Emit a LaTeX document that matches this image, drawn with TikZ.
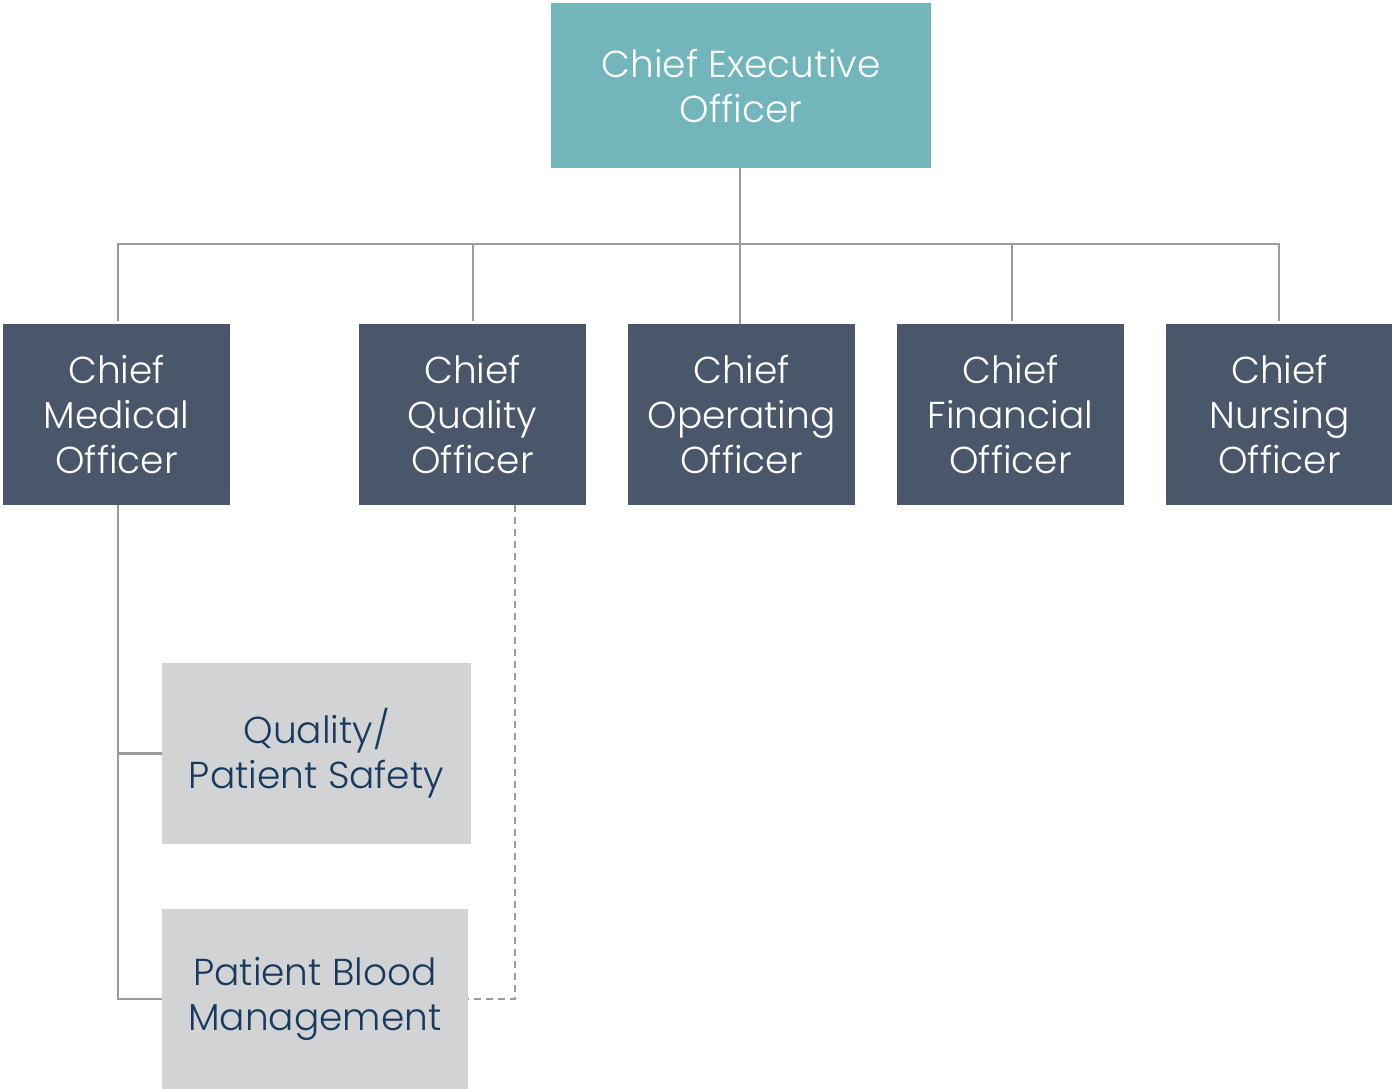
\documentclass[tikz,border=0pt]{standalone}
\usepackage{fontspec}
\setmainfont{Poppins}[UprightFont={* Light}]
\definecolor{teal}{RGB}{114,181,186}
\definecolor{slate}{RGB}{74,87,106}
\definecolor{lightg}{RGB}{209,211,213}
\definecolor{navy}{RGB}{24,58,94}
\definecolor{linegray}{RGB}{155,155,155}
\begin{document}
\begin{tikzpicture}[x=1pt,y=-1pt,
  box/.style={inner sep=0pt,outer sep=0pt,align=center,font=\fontsize{37.5}{45}\selectfont},
  ceo/.style={box,fill=teal,text=white,minimum width=380pt,minimum height=165pt},
  chief/.style={box,fill=slate,text=white,minimum width=227pt,minimum height=181pt},
  sub/.style={box,fill=lightg,text=navy},
  link/.style={draw=linegray,line width=2.8pt},
  dlink/.style={draw=linegray,line width=2.8pt,dash pattern=on 7pt off 5pt}]
\useasboundingbox (0,0) rectangle (1392,1089);
\node[ceo] (ceo) at (741,85.5) {Chief Executive\\Officer};
\node[chief] (cmo) at (116.5,414.5) {Chief\\Medical\\Officer};
\node[chief] (cqo) at (472.5,414.5) {Chief\\Quality\\Officer};
\node[chief] (coo) at (741.5,414.5) {Chief\\Operating\\Officer};
\node[chief] (cfo) at (1010.5,414.5) {Chief\\Financial\\Officer};
\node[chief] (cno) at (1279.5,414.5) {Chief\\Nursing\\Officer};
\node[sub,minimum width=309pt,minimum height=181pt] (qps) at (316.5,753.5) {Quality/\\Patient Safety};
\node[sub,minimum width=306pt,minimum height=180pt] (pbm) at (315,999) {Patient Blood\\Management};
\coordinate (bus) at (740,244);
\draw[link] (ceo.south -| bus) -- (bus);
\draw[link] (118,321) -- (118,244) -- (1279,244) -- (1279,321);
\draw[link] (473,244) -- (473,321);
\draw[link] (740,244) -- (coo.north -| 740,0);
\draw[link] (1012,244) -- (1012,321);
\draw[link] (cmo.south -| 118,0) -- (pbm.west -| 118,0) -- (pbm.west);
\draw[link] (qps.west -| 118,0) -- (qps.west);
\draw[dlink] (cqo.south -| 515,0) -- (pbm.east -| 515,0) -- (pbm.east);
\end{tikzpicture}
\end{document}
